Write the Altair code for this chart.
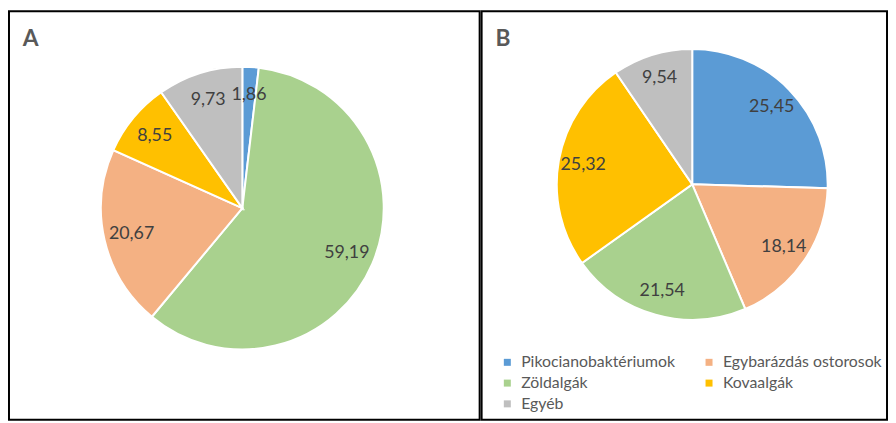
import altair as alt
import pandas as pd

categories = ["Pikocianobaktériumok", "Egybarázdás ostorosok", "Zöldalgák", "Kovaalgák", "Egyéb"]
colors = ["#5B9BD5", "#F4B183", "#A9D18E", "#FFC000", "#BFBFBF"]
# legend is filled column by column: this order gives the row-wise reading of the reference
legend_order = ["Pikocianobaktériumok", "Zöldalgák", "Egyéb", "Egybarázdás ostorosok", "Kovaalgák"]

a_cats = ["Pikocianobaktériumok", "Zöldalgák", "Egybarázdás ostorosok", "Kovaalgák", "Egyéb"]
a_vals = [1.86, 59.19, 20.67, 8.55, 9.73]

b_cats = ["Pikocianobaktériumok", "Egybarázdás ostorosok", "Zöldalgák", "Kovaalgák", "Egyéb"]
b_vals = [25.45, 18.14, 21.54, 25.32, 9.54]

FONT = "Lato"

color_of = dict(zip(categories, colors))
color_scale = alt.Scale(domain=legend_order, range=[color_of[c] for c in legend_order])


def make_df(cats, vals):
    return pd.DataFrame({
        "cat": cats,
        "val": vals,
        "ord": list(range(len(cats))),
        "label": [f"{v:.2f}".replace(".", ",") for v in vals],
    })


def pie(df, cx, cy, r, lr, letter, w, h, legend):
    base = alt.Chart(df)
    arc = base.mark_arc(outerRadius=r, stroke="white", strokeWidth=2).encode(
        theta=alt.Theta("val:Q", stack=True),
        order=alt.Order("ord:Q"),
        color=alt.Color("cat:N", scale=color_scale, legend=legend, sort=legend_order),
        x=alt.value(cx), y=alt.value(cy),
    )
    txt = base.mark_text(radius=lr, font=FONT, fontSize=18, color="#404040").encode(
        theta=alt.Theta("val:Q", stack=True),
        order=alt.Order("ord:Q"),
        text="label:N",
        x=alt.value(cx), y=alt.value(cy),
    )
    title = alt.Chart(pd.DataFrame({"t": [letter]})).mark_text(
        font=FONT, fontSize=23, fontWeight="bold", color="#595959", align="left", baseline="alphabetic"
    ).encode(text="t:N", x=alt.value(14), y=alt.value(35))
    return alt.layer(arc, txt, title).properties(width=w, height=h)


legend_b = alt.Legend(
    title=None, orient="none", legendX=18, legendY=347, columns=2,
    symbolType="square", symbolSize=50, symbolStrokeWidth=0,
    labelFont=FONT, labelFontSize=16, labelColor="#595959", labelLimit=300,
    rowPadding=5, columnPadding=26, labelOffset=6, padding=0,
)

chart_a = pie(make_df(a_cats, a_vals), 236, 199, 143, 115, "A", 476, 413, None)
chart_b = pie(make_df(b_cats, b_vals), 213, 175, 137, 112, "B", 410, 413, legend_b)

chart = alt.hconcat(chart_a, chart_b, spacing=0).resolve_scale(color="independent").properties(
    padding=0
).configure_view(stroke="black", strokeWidth=2)

chart.save("out.html", embed_options={"renderer": "svg", "actions": False})
